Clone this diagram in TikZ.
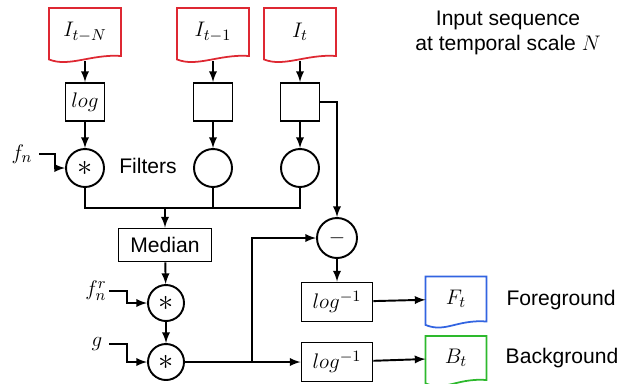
\documentclass[tikz,border=0pt]{standalone}
\usepackage{fontspec}
\setmainfont{Liberation Sans}
\usepackage{tikz}
\usepackage{amsmath}

\definecolor{docred}{RGB}{222,40,50}
\definecolor{docblue}{RGB}{50,100,225}
\definecolor{docgreen}{RGB}{45,185,45}

\newcommand{\docwave}[2]{\draw[#2, line width=1pt] (#1.north west) -- ([yshift=-2pt]#1.south west) .. controls +(20,8) and +(-30,-2) .. (#1.south east) -- (#1.north east) -- cycle;}

\begin{document}
\begin{tikzpicture}[x=0.02cm, y=-0.02cm, >=latex, line width=1.1pt,
  doc/.style={minimum width=1.4cm, minimum height=0.92cm, inner sep=0pt, font=\fontsize{13}{15}\selectfont},
  opbox/.style={draw, minimum width=0.78cm, minimum height=0.76cm, inner sep=0pt},
  opcirc/.style={draw, circle, minimum size=0.76cm, inner sep=0pt},
  lbl/.style={font=\fontsize{12}{14}\selectfont}]
\useasboundingbox (0,0) rectangle (628,383);

\node[doc] (dN) at (85,32) {$I_{t-N}$};
\node[doc] (d1) at (213,32) {$I_{t-1}$};
\node[doc] (d0) at (300,32) {$I_t$};
\docwave{dN}{docred}
\docwave{d1}{docred}
\docwave{d0}{docred}

\node[opbox, font=\fontsize{13}{15}\selectfont] (logN) at (85,102) {$log$};
\node[opbox] (log1) at (213,102) {};
\node[opbox] (log0) at (300,102) {};

\node[opcirc, font=\LARGE] (cN) at (85,168) {$\ast$};
\node[opcirc] (c1) at (213,168) {};
\node[opcirc] (c0) at (300,168) {};

\node[lbl] (filt) at (148,166) {Filters};
\node[font=\fontsize{13}{15}\selectfont] (fn) at (22,154) {$f_n$};

\coordinate (join) at (165,208);
\node[opbox, lbl, minimum width=1.86cm, minimum height=0.66cm] (med) at (165,245) {Median};

\node[opcirc, minimum size=0.72cm, font=\LARGE] (cr) at (166,303) {$\ast$};
\node[opcirc, minimum size=0.72cm, font=\LARGE] (cg) at (166,362) {$\ast$};
\node[font=\fontsize{13}{15}\selectfont, inner sep=1pt] (fnr) at (96,291) {$f_n^r$};
\node[font=\fontsize{13}{15}\selectfont] (g) at (97,344) {$g$};

\node[opcirc, minimum size=0.8cm, font=\large] (minus) at (337,238) {$-$};
\coordinate (split) at (252,362);

\node[opbox, font=\fontsize{13}{15}\selectfont, minimum width=1.42cm, minimum height=0.78cm] (inv1) at (337,302) {$log^{-1}$};
\node[opbox, font=\fontsize{13}{15}\selectfont, minimum width=1.42cm, minimum height=0.78cm] (inv2) at (337,362) {$log^{-1}$};

\node[doc, minimum width=1.18cm, minimum height=0.86cm] (Ft) at (456,299) {$F_t$};
\node[doc, minimum width=1.18cm, minimum height=0.84cm] (Bt) at (456,358) {$B_t$};
\docwave{Ft}{docblue}
\docwave{Bt}{docgreen}

\node[lbl] (fg) at (561,300) {Foreground};
\node[lbl] (bg) at (562,358) {Background};
\node[lbl, align=center] (title) at (508,33) {Input sequence\\at temporal scale $N$};

\draw[->, shorten <=3pt] (dN.south) -- (logN);
\draw[->, shorten <=3pt] (d1.south) -- (log1);
\draw[->, shorten <=3pt] (d0.south) -- (log0);
\draw[->] (logN) -- (cN);
\draw[->] (log1) -- (c1);
\draw[->] (log0) -- (c0);
\draw[->] (fn.east) -- ++(16,0) |- (cN.west);

\draw (cN.south) -- (cN.south |- join) -- (c0.south |- join) -- (c0.south);
\draw (c1.south) -- (c1.south |- join);
\draw[->] (join) -- (med);
\draw[->] (med) -- (cr);
\draw[->] (cr) -- (cg);
\draw[->] (fnr.east) -- ++(18,0) |- (cr.west);
\draw[->] (g.east) -- ++(18,0) |- (cg.west);

\draw[->] (log0.east) -| (minus.north);
\draw[->] (cg) -- (inv2);
\draw[->] (split) |- (minus.west);
\draw[->] (minus) -- (inv1);
\draw[->] (inv1) -- (Ft);
\draw[->] (inv2) -- (Bt);
\end{tikzpicture}
\end{document}
